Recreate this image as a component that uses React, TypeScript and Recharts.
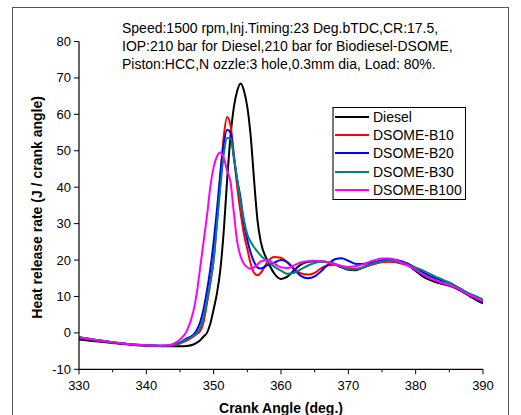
import React from "react";
import { LineChart, Line, XAxis, YAxis, Legend, Label } from "recharts";

const angles = [330, 332, 334, 336, 338, 340, 342, 343, 344, 345, 346, 347, 347.5, 348, 348.5, 349, 349.5, 350, 350.5, 351, 351.5, 352, 352.5, 353, 353.5, 354, 354.5, 355, 355.5, 356, 356.5, 357, 358, 359, 360, 361, 362, 363, 364, 365, 366, 367, 368, 369, 370, 371, 372, 373, 374, 375, 376, 377, 378, 379, 380, 381, 382, 383, 384, 385, 386, 387, 388, 389, 390];

const diesel = [-1.8, -2.2, -2.6, -3.0, -3.3, -3.5, -3.6, -3.7, -3.7, -3.7, -3.6, -3.2, -2.7, -2.0, -1.0, 0.0, 2.5, 6.5, 11, 17.5, 28, 42, 54, 62, 66.5, 68.5, 66.5, 62, 54, 42, 31, 25, 19.8, 16.3, 14.8, 15.5, 17.3, 18.8, 19.5, 19.7, 19.6, 19.4, 18.8, 18, 17.3, 17.2, 17.8, 18.6, 19.3, 19.8, 20, 19.8, 19.3, 18.4, 17, 15.6, 14.6, 13.9, 13.4, 12.9, 12.2, 11.2, 10.1, 9, 8.1];

const b10 = [-1.2, -1.8, -2.3, -2.8, -3.2, -3.4, -3.6, -3.6, -3.4, -2.9, -2.1, -1.0, -0.3, 0.5, 3, 8, 13.5, 20, 31, 43, 54, 59.3, 57, 49, 40, 33, 27, 23, 19, 16.5, 15.8, 16.5, 19.5, 20.8, 20.6, 19.2, 17.5, 16.3, 16.0, 16.5, 17.8, 18.6, 18.7, 18.3, 17.7, 17.6, 17.8, 18.4, 19, 19.4, 19.5, 19.4, 19, 18.4, 17.5, 16.4, 15.3, 14.4, 13.8, 13.1, 12.5, 11.6, 10.6, 9.7, 8.9];

const b20 = [-1.2, -1.8, -2.3, -2.8, -3.2, -3.4, -3.5, -3.5, -3.3, -2.6, -1.5, -0.5, 0.8, 3, 6.5, 11.5, 17.5, 25, 34, 44, 52, 55.8, 55, 48, 42, 37, 30, 25.5, 22, 19.5, 18, 17.7, 18.6, 19.3, 20, 19.4, 17.3, 15.6, 15, 15.5, 17, 18.8, 20.2, 20.5, 19.8, 19, 18.9, 19.1, 19.5, 19.9, 20.2, 20.1, 19.6, 18.9, 17.8, 16.7, 15.7, 15, 14.3, 13.8, 12.8, 11.7, 10.6, 9.5, 8.5];

const b30 = [-1.2, -1.8, -2.3, -2.8, -3.2, -3.4, -3.5, -3.5, -3.4, -2.8, -1.8, -0.8, 0.0, 1.5, 4.5, 9, 14, 20, 30, 40, 49, 53.5, 53.5, 48.5, 42, 36, 31, 27, 25, 23.5, 22.3, 21.2, 19.6, 18.2, 17.1, 16.2, 16.5, 17.5, 18.5, 19.2, 19.5, 19.4, 19, 18.2, 17.5, 17.4, 17.9, 18.6, 19.2, 19.6, 19.8, 19.6, 19.2, 18.6, 17.9, 17.2, 16.3, 15.4, 14.6, 13.7, 12.7, 11.8, 10.8, 10, 9.2];

const b100 = [-1.2, -1.8, -2.3, -2.8, -3.2, -3.4, -3.5, -3.4, -3.0, -1.8, 0.5, 6, 11, 18, 25, 32, 40, 45.5, 48.5, 49.5, 48, 44.5, 41.5, 33, 25, 21, 19, 18, 17.6, 18, 18.8, 19.6, 20, 19, 18, 17.8, 18.6, 19.4, 19.7, 19.8, 19.7, 19.4, 18.9, 18.4, 18.1, 18.3, 18.7, 19.4, 20, 20.4, 20.4, 20, 19.3, 18.4, 17.3, 16.2, 15.2, 14.4, 13.7, 13.1, 12.4, 11.4, 10.4, 9.5, 8.8];

const seriesNames = ["Diesel", "DSOME-B10", "DSOME-B20", "DSOME-B30", "DSOME-B100"];
const seriesKeys = ["diesel", "b10", "b20", "b30", "b100"];
const seriesColors = ["#000000", "#ff0000", "#0000ff", "#008080", "#ff00ff"];
const seriesValues = [diesel, b10, b20, b30, b100];

const xTicks = [330, 335, 340, 345, 350, 355, 360, 365, 370, 375, 380, 385, 390];
const yTicks = [-10, -5, 0, 5, 10, 15, 20, 25, 30, 35, 40, 45, 50, 55, 60, 65, 70, 75, 80];

const titleLines = [
  "Speed:1500 rpm,Inj.Timing:23 Deg.bTDC,CR:17.5,",
  "IOP:210 bar for Diesel,210 bar for Biodiesel-DSOME,",
  "Piston:HCC,N ozzle:3 hole,0.3mm dia, Load: 80%.",
];

const data = angles.map((a, i) => {
  const row: Record<string, number> = { angle: a };
  seriesKeys.forEach((k, j) => {
    row[k] = seriesValues[j][i];
  });
  return row;
});

const FONT = '"Liberation Sans", Arial, sans-serif';

const YTick = (props: any) => {
  const { x, y, payload } = props;
  const major = payload.value % 10 === 0;
  return (
    <g>
      <line x1={x - (major ? 5 : 3)} y1={y} x2={x} y2={y} stroke="#000" strokeWidth={1} />
      {major && (
        <text x={x - 8} y={y} dy="0.35em" textAnchor="end" fontSize={13} fontFamily={FONT} fill="#000">
          {payload.value}
        </text>
      )}
    </g>
  );
};

const XTick = (props: any) => {
  const { x, y, payload } = props;
  const major = payload.value % 10 === 0;
  return (
    <g>
      <line x1={x} y1={y} x2={x} y2={y + (major ? 5 : 3)} stroke="#000" strokeWidth={1} />
      {major && (
        <text x={x} y={y + 16.5} dy="0.35em" textAnchor="middle" fontSize={13} fontFamily={FONT} fill="#000">
          {payload.value}
        </text>
      )}
    </g>
  );
};

const LegendBox = () => (
  <div
    style={{
      border: "1px solid #000",
      borderLeft: "2px solid #777",
      background: "#fff",
      padding: "0px 3px 0px 1px",
      fontFamily: FONT,
      fontSize: 14,
      whiteSpace: "nowrap",
      display: "inline-block",
    }}
  >
    {seriesNames.map((n, i) => (
      <div key={n} style={{ display: "flex", alignItems: "center", height: 18.2, lineHeight: "18px" }}>
        <svg width={34} height={4} style={{ marginRight: 4, flex: "none" }}>
          <line x1={0} y1={2} x2={34} y2={2} stroke={seriesColors[i]} strokeWidth={2} />
        </svg>
        <span>{n}</span>
      </div>
    ))}
  </div>
);

export default function App() {
  return (
    <div style={{ position: "absolute", left: 0, top: 0, width: 521, height: 415, background: "#fff", overflow: "hidden" }}>
      <div
        style={{
          position: "absolute",
          left: 12,
          top: 7,
          width: 497,
          height: 430,
          border: "1px solid #555",
          boxSizing: "border-box",
        }}
      />
      <div
        style={{
          position: "absolute",
          left: 122,
          top: 19,
          fontFamily: FONT,
          fontSize: 14,
          lineHeight: "18px",
          color: "#000",
          whiteSpace: "nowrap",
        }}
      >
        {titleLines.map((t) => (
          <div key={t}>{t}</div>
        ))}
      </div>
      <div style={{ position: "absolute", left: 0, top: 0 }}>
        <LineChart width={521} height={415} data={data} margin={{ top: 41.5, right: 38, left: 29, bottom: 15.7 }}>
          <XAxis
            dataKey="angle"
            type="number"
            domain={[330, 390]}
            ticks={xTicks}
            tick={<XTick />}
            tickLine={false}
            tickSize={0}
            tickMargin={0}
            height={30}
            axisLine={{ stroke: "#000", strokeWidth: 1.2 }}
            allowDataOverflow
          >
            <Label
              content={() => (
                <text x={281} y={413} textAnchor="middle" fontSize={14} fontWeight="bold" fontFamily={FONT} fill="#000">
                  Crank Angle (deg.)
                </text>
              )}
            />
          </XAxis>
          <YAxis
            type="number"
            domain={[-10, 80]}
            ticks={yTicks}
            tick={<YTick />}
            tickLine={false}
            tickSize={0}
            tickMargin={0}
            width={50}
            axisLine={{ stroke: "#000", strokeWidth: 1.2 }}
            allowDataOverflow
          >
            <Label
              content={(p: any) => {
                const vb = p.viewBox || { x: 29, y: 41.5, height: 327.8 };
                const cx = vb.x + 8;
                const cy = vb.y + vb.height / 2 + 2;
                return (
                  <text
                    x={cx}
                    y={cy}
                    transform={`rotate(-90 ${cx} ${cy})`}
                    textAnchor="middle"
                    dy="0.35em"
                    fontSize={14}
                    fontWeight="bold"
                    fontFamily={FONT}
                    fill="#000"
                  >
                    Heat release rate (J / crank angle)
                  </text>
                );
              }}
            />
          </YAxis>
          <Legend
            layout="vertical"
            align="center"
            verticalAlign="middle"
            content={() => <LegendBox />}
            wrapperStyle={{ left: 332, top: 107, width: "auto" }}
          />
          {seriesKeys.map((k, i) => (
            <Line
              key={k}
              dataKey={k}
              name={seriesNames[i]}
              type="monotone"
              stroke={seriesColors[i]}
              strokeWidth={2}
              dot={false}
              isAnimationActive={false}
            />
          ))}
        </LineChart>
      </div>
    </div>
  );
}
